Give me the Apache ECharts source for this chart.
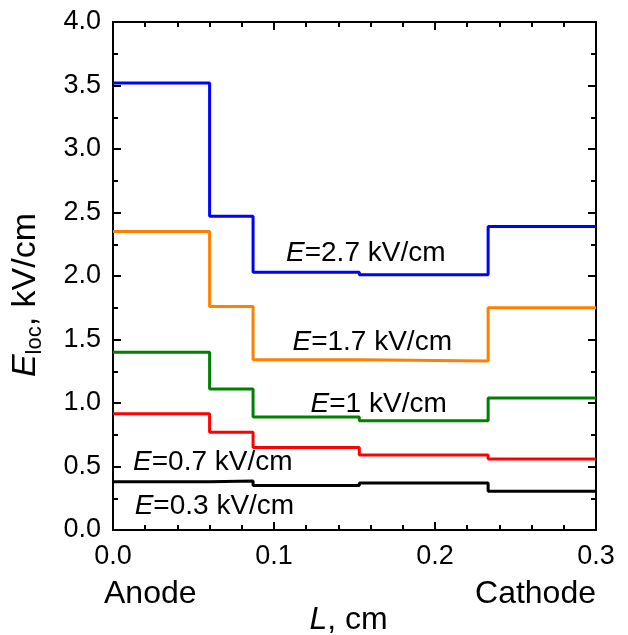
<!DOCTYPE html>
<html><head><meta charset="utf-8">
<script src="https://cdn.jsdelivr.net/npm/echarts@6/dist/echarts.min.js"></script>
<style>html,body{margin:0;padding:0;background:#fff}#c{width:628px;height:635px}</style>
</head><body><div id="c"></div>
<script>
// Segment boundaries along L (cm)
const xBreaks = [0, 0.060, 0.087, 0.153, 0.233, 0.3];
// E_loc values per segment (kV/cm)
const e27 = [3.52, 2.47, 2.03, 2.01, 2.39];
const e17 = [2.35, 1.76, 1.34, 1.33, 1.75];
const e10 = [1.40, 1.11, 0.89, 0.86, 1.04];
const e07 = [0.915, 0.77, 0.65, 0.59, 0.56];
const e03 = [0.38, 0.385, 0.35, 0.37, 0.305];
const seriesNames = ['2.7', '1.7', '1', '0.7', '0.3'];
const seriesColors = ['#0000ff', '#ff8000', '#008000', '#ff0000', '#000000'];
// label anchors [L, E]
const labelPos = [[0.157, 2.18], [0.161, 1.48], [0.165, 0.99], [0.062, 0.53], [0.063, 0.185]];
const xTicks = ['0.0', '0.1', '0.2', '0.3'];

const FONT = 'Liberation Sans, Arial, Helvetica, sans-serif';
function stepData(vals) {
  const d = vals.map((v, i) => [xBreaks[i], v]);
  d.push([xBreaks[xBreaks.length - 1], vals[vals.length - 1]]);
  return d;
}
const allVals = [e27, e17, e10, e07, e03];
const chart = echarts.init(document.getElementById('c'), null, {renderer: 'canvas'});
const axisLine = {show: true, onZero: false, lineStyle: {color: '#000', width: 2}};
const xCommon = {type: 'value', min: 0, max: 0.3, interval: 0.1, splitLine: {show: false},
  axisLine: axisLine,
  axisTick: {show: true, inside: true, length: 8, lineStyle: {color: '#000', width: 2}},
  minorTick: {show: true, splitNumber: 5, length: 5, lineStyle: {color: '#000', width: 2}}};
const yCommon = {type: 'value', min: 0, max: 4, interval: 0.5, splitLine: {show: false},
  axisLine: axisLine,
  axisTick: {show: true, inside: true, length: 8, lineStyle: {color: '#000', width: 2}},
  minorTick: {show: true, splitNumber: 2, length: 5, lineStyle: {color: '#000', width: 2}}};
const option = {
  animation: false,
  grid: {left: 113, top: 22, right: 32, bottom: 105, containLabel: false},
  xAxis: [
    Object.assign({}, xCommon, {position: 'bottom',
      axisLabel: {show: true, margin: 13, fontSize: 27, color: '#000', fontFamily: FONT,
        formatter: v => xTicks[Math.round(v * 10)]}}),
    Object.assign({}, xCommon, {position: 'top', axisLabel: {show: false}})
  ],
  yAxis: [
    Object.assign({}, yCommon, {position: 'left',
      axisLabel: {show: true, margin: 12, fontSize: 27, color: '#000', fontFamily: FONT,
        formatter: v => v.toFixed(1)},
      name: '{i|E}{s|loc}{n|, kV/cm}', nameLocation: 'middle', nameRotate: 90, nameGap: 67,
      nameTextStyle: {color: '#000', fontFamily: FONT, padding: [0, 38, 0, 0],
        rich: {
          i: {fontSize: 34, fontStyle: 'italic', fontFamily: FONT, color: '#000'},
          s: {fontSize: 22, fontFamily: FONT, color: '#000', verticalAlign: 'top', padding: [18, 0, 0, 0]},
          n: {fontSize: 34, fontFamily: FONT, color: '#000'}
        }}}),
    Object.assign({}, yCommon, {position: 'right', axisLabel: {show: false}})
  ],
  series: allVals.map((vals, k) => ({
    type: 'line', name: seriesNames[k], step: 'end', showSymbol: false, symbol: 'none',
    data: stepData(vals), xAxisIndex: 0, yAxisIndex: 0,
    lineStyle: {color: seriesColors[k], width: 3}, z: 3
  }))
};
chart.setOption(option);
const g = [];
labelPos.forEach((p, k) => {
  const px = chart.convertToPixel({xAxisIndex: 0, yAxisIndex: 0}, p);
  g.push({type: 'text', x: px[0], y: px[1], z: 10,
    style: {text: '{i|E}{n|=' + seriesNames[k] + ' kV/cm}', align: 'center', verticalAlign: 'middle',
      rich: {i: {fontSize: 28, fontStyle: 'italic', fontFamily: FONT, fill: '#000'},
             n: {fontSize: 28, fontFamily: FONT, fill: '#000'}}}});
});
const x0 = chart.convertToPixel({xAxisIndex: 0}, 0);
const x3 = chart.convertToPixel({xAxisIndex: 0}, 0.3);
const xm = chart.convertToPixel({xAxisIndex: 0}, 0.15);
g.push({type: 'text', x: x0 - 9, y: 594, style: {text: 'Anode', fontSize: 32, fontFamily: FONT, fill: '#000', align: 'left', verticalAlign: 'middle'}});
g.push({type: 'text', x: x3, y: 594, style: {text: 'Cathode', fontSize: 32, fontFamily: FONT, fill: '#000', align: 'right', verticalAlign: 'middle'}});
g.push({type: 'text', x: xm - 6, y: 620, style: {text: '{i|L}{n|, cm}', align: 'center', verticalAlign: 'middle',
  rich: {i: {fontSize: 32, fontStyle: 'italic', fontFamily: FONT, fill: '#000'}, n: {fontSize: 32, fontFamily: FONT, fill: '#000'}}}});
chart.setOption({graphic: g});
</script>
</body></html>
